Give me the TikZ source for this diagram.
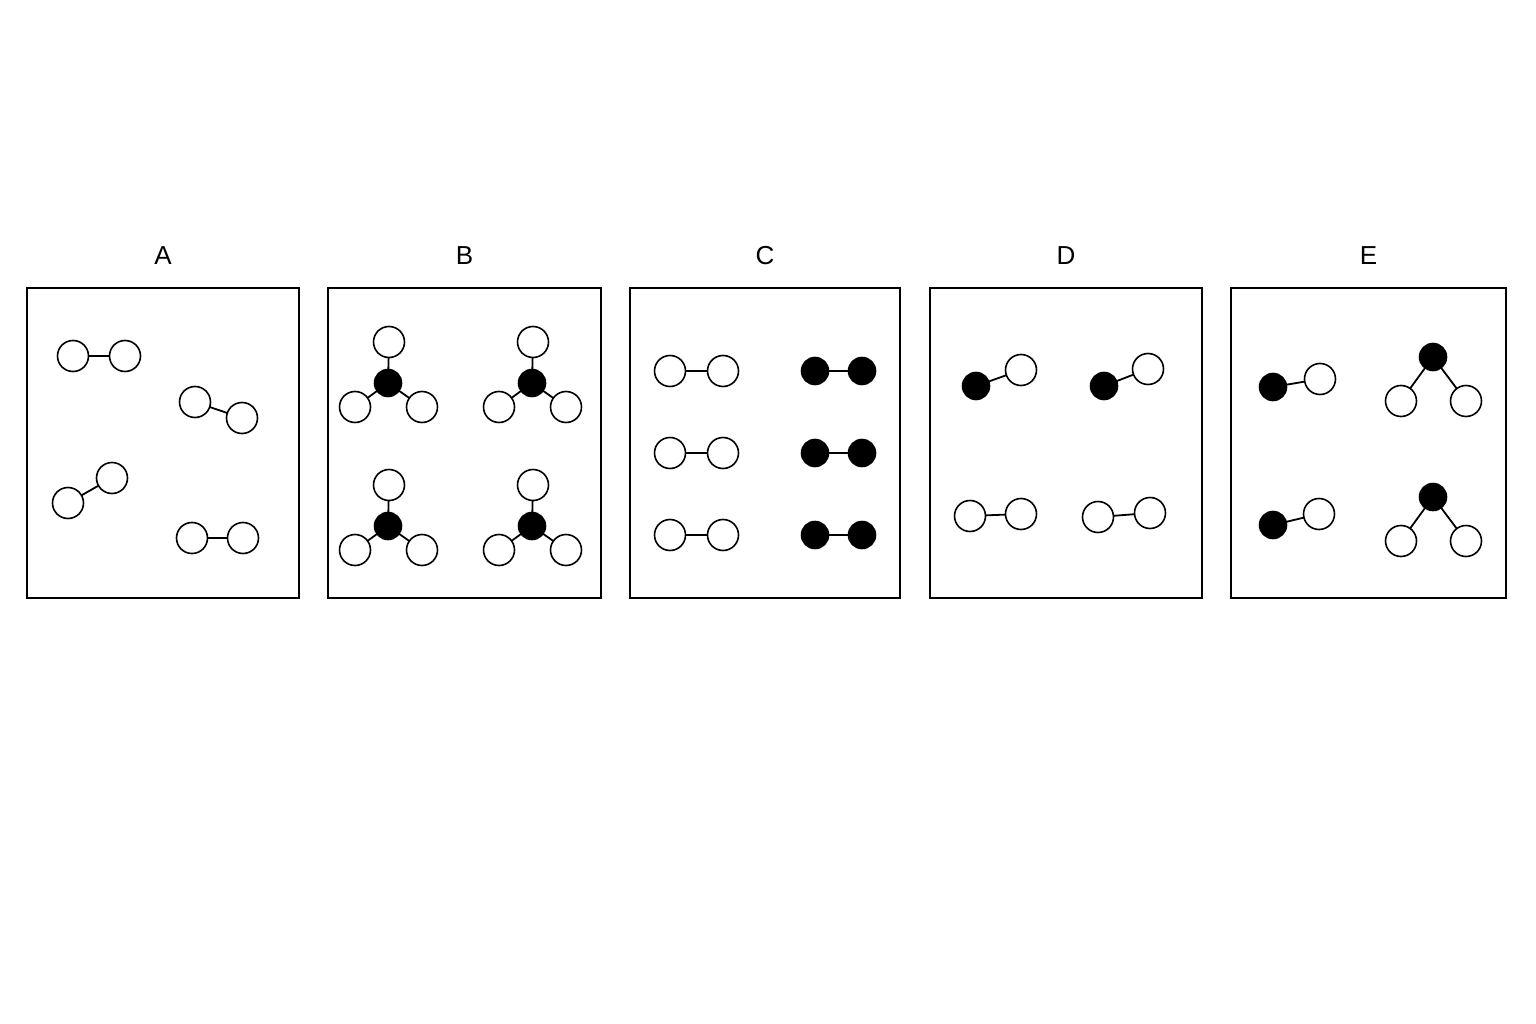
\documentclass[tikz,border=0pt]{standalone}
\usepackage{fontspec}
\setmainfont{Liberation Sans}
\usetikzlibrary{positioning}
\begin{document}
\begin{tikzpicture}[x=1pt,y=-1pt]
        \tikzset{
          wa/.style = {draw, circle, line width=1.6pt, fill=white, minimum size=31pt, inner sep=0pt, outer sep=0pt},
          ba/.style = {wa, fill=black, minimum size=27pt},
          bond/.style = {line width=1.8pt},
          panel/.style = {draw, line width=1.8pt},
          lbl/.style = {font=\fontsize{26}{30}\selectfont}
        }
        \useasboundingbox (0,0) rectangle (1536,1024);

        % panels and labels
        \foreach \l/\xa/\xb in {A/27/299, B/328/601, C/630/900, D/930/1202, E/1231/1506} {
          \draw [panel] (\xa,288) rectangle (\xb,598);
          \node [lbl] (lab\l) at ({(\xa+\xb)/2},256) {\l};
        }

        % A
        \node [wa] (a1) at (73,356) {};  \node [wa] (a2) at (125,356) {};
        \node [wa] (a3) at (195,402) {}; \node [wa] (a4) at (242,418) {};
        \node [wa] (a5) at (68,503) {};  \node [wa] (a6) at (112,478) {};
        \node [wa] (a7) at (192,538) {}; \node [wa] (a8) at (243,538) {};
        \draw [bond] (a1) -- (a2) (a3) -- (a4) (a5) -- (a6) (a7) -- (a8);

        % B
        \foreach \n/\x/\y in {1/388/383, 2/532/383, 3/388/526, 4/532/526} {
          \node [wa] (bt\n) at (\x+1,\y-41) {};
          \node [wa] (bl\n) at (\x-33,\y+24) {};
          \node [wa] (br\n) at (\x+34,\y+24) {};
          \node [ba] (bc\n) at (\x,\y) {};
          \draw [bond] (bc\n) -- (bt\n) (bc\n) -- (bl\n) (bc\n) -- (br\n);
        }

        % C
        \foreach \n/\y in {1/371, 2/453, 3/535} {
          \node [wa] (cw\n) at (670,\y) {}; \node [wa] (cx\n) at (723,\y) {};
          \node [ba] (cb\n) at (815,\y) {}; \node [ba] (cy\n) at (862,\y) {};
          \draw [bond] (cw\n) -- (cx\n) (cb\n) -- (cy\n);
        }

        % D
        \node [ba] (d1) at (976,386) {};  \node [wa] (d2) at (1021,370) {};
        \node [ba] (d3) at (1104,386) {}; \node [wa] (d4) at (1148,369) {};
        \node [wa] (d5) at (970,516) {};  \node [wa] (d6) at (1021,514) {};
        \node [wa] (d7) at (1098,517) {}; \node [wa] (d8) at (1150,513) {};
        \draw [bond] (d1) -- (d2) (d3) -- (d4) (d5) -- (d6) (d7) -- (d8);

        % E
        \node [ba] (e1) at (1273,387) {}; \node [wa] (e2) at (1320,379) {};
        \node [ba] (e3) at (1273,525) {}; \node [wa] (e4) at (1319,514) {};
        \draw [bond] (e1) -- (e2) (e3) -- (e4);
        \foreach \n/\y in {1/357, 2/497} {
          \node [ba] (et\n) at (1433,\y) {};
          \node [wa] (el\n) at (1401,\y+44) {};
          \node [wa] (er\n) at (1466,\y+44) {};
          \draw [bond] (et\n) -- (el\n) (et\n) -- (er\n);
        }
\end{tikzpicture}
\end{document}
